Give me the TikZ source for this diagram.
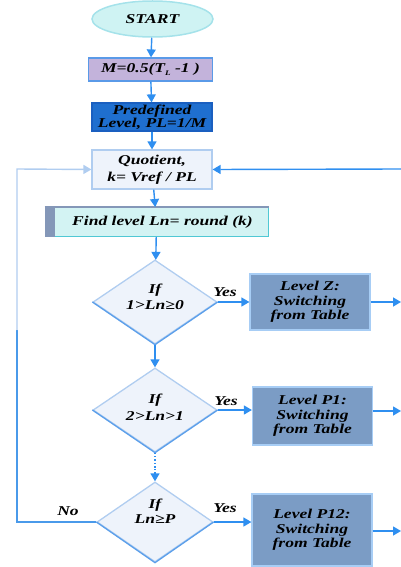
\documentclass[tikz,border=0pt]{standalone}
\usepackage{fontspec}
\setmainfont{Liberation Serif}[FakeStretch=1.3]
\usetikzlibrary{shapes.geometric,arrows.meta}
\definecolor{arr}{HTML}{2F8FF0}
\definecolor{startfill}{HTML}{CFF3F3}
\definecolor{startdraw}{HTML}{A5E2EA}
\definecolor{mfill}{HTML}{C3B3DB}
\definecolor{mdraw}{HTML}{5A9AE8}
\definecolor{pfill}{HTML}{1F6FCF}
\definecolor{pdraw}{HTML}{1A5FC0}
\definecolor{qfill}{HTML}{EEF3FB}
\definecolor{qdraw}{HTML}{B0CDF0}
\definecolor{ddark}{HTML}{5C9FEA}
\definecolor{ffill}{HTML}{D3F3F3}
\definecolor{fstripe}{HTML}{8497B8}
\definecolor{fdraw}{HTML}{50C8D4}
\definecolor{lfill}{HTML}{7B9CC5}
\definecolor{ldraw}{HTML}{A7CDF5}
\definecolor{loop}{HTML}{4A9AEA}
\begin{document}
\begin{tikzpicture}[x=1pt,y=-1pt,
  txt/.style={font=\bfseries\itshape\fontsize{13.5}{14.5}\selectfont, align=center, inner sep=0pt},
  conn/.style={draw=arr, line width=1.4pt, -{Triangle[length=8pt,width=9pt]}},
  boxstyle/.style={rectangle, line width=1.2pt, txt},
  dia/.style={diamond, aspect=1.48, fill=qfill, draw=qdraw, line width=1.3pt, minimum width=124pt, minimum height=84pt},
  dialow/.style={draw=ddark, line width=1.3pt, line join=miter},
  lvl/.style={boxstyle, fill=lfill, draw=ldraw, minimum width=120pt},
  lab/.style={font=\bfseries\itshape\fontsize{13.5}{14}\selectfont, inner sep=0pt}]
\useasboundingbox (0,0) rectangle (401,567);

\node[ellipse, fill=startfill, draw=startdraw, line width=1.5pt, minimum width=121pt, minimum height=36pt, txt] (start) at (152.5,19) {START};

\node[boxstyle, fill=mfill, draw=mdraw, minimum width=124pt, minimum height=23pt] (m) at (150.5,69.5) {M=0.5(T\raisebox{-2.5pt}{\fontsize{7}{7}\selectfont L} -1 )};

\node[boxstyle, fill=pfill, draw=pdraw, minimum width=120pt, minimum height=28pt, font=\bfseries\itshape\fontsize{13.5}{13}\selectfont] (p) at (152,117) {Predefined\\Level, PL=1/M};

\node[boxstyle, fill=qfill, draw=qdraw, minimum width=120pt, minimum height=39pt, font=\bfseries\itshape\fontsize{13.5}{17}\selectfont] (q) at (152,169.5) {Quotient,\\k= Vref / PL};

\node[rectangle, fill=ffill, draw=fdraw, line width=1pt, minimum width=223pt, minimum height=29pt] (f) at (156.5,222) {};
\fill[fstripe] (f.north west) rectangle ([xshift=10pt]f.south west);
\draw[fstripe, line width=1.2pt] (f.north west) -- (f.north east);
\node[txt] at ([xshift=6pt]f.center) {Find level Ln= round (k)};

\node[dia] (d1) at (155,302) {};
\node[dia] (d2) at (155,410) {};
\node[dia, minimum width=116pt, minimum height=80pt] (d3) at (155,522) {};
\draw[dialow] (d1.west) -- (d1.south) -- (d1.east);
\draw[dialow] (d2.west) -- (d2.south) -- (d2.east);
\draw[dialow] (d3.west) -- (d3.south) -- (d3.east);
\node[txt, font=\bfseries\itshape\fontsize{13.5}{16.5}\selectfont] at ([yshift=5pt]d1.center) {If\\1>Ln≥0};
\node[txt, font=\bfseries\itshape\fontsize{13.5}{17}\selectfont] at ([yshift=3pt]d2.center) {If\\2>Ln>1};
\node[txt, font=\bfseries\itshape\fontsize{13.5}{15}\selectfont] at ([yshift=11pt]d3.center) {If\\Ln≥P};

\node[lvl, minimum height=56pt] (l1) at (310,302) {Level Z:\\Switching\\from Table};
\node[lvl, minimum height=58pt] (l2) at (312.5,416) {Level P1:\\Switching\\from Table};
\node[lvl, minimum height=72pt] (l3) at (312,530) {Level P12:\\Switching\\from Table};

\coordinate (o1) at (401,302);
\coordinate (o2) at (401,411);
\coordinate (o3) at (401,531);
\coordinate (fb) at (401,169);
\coordinate (lb) at (17,522);
\coordinate (lt) at (17,169);
\coordinate (dm) at (155,469);

\draw[conn] (start) -- (m);
\draw[conn] (m) -- (p);
\draw[conn] (p) -- (q);
\draw[conn] (q) -- (f);
\draw[conn] (f) -- (d1);
\draw[conn] (d1) -- (d2);
\draw[draw=arr, line width=1.4pt, dotted] (d2.south) -- (dm);
\draw[conn, dotted] (dm) -- (d3.north);
\draw[conn] (d1.east) -- (l1.west);
\draw[conn] (d2.east) -- (l2.west |- d2.east);
\draw[conn] (d3.east) -- (l3.west |- d3.east);
\draw[conn] (l1.east) -- (o1);
\draw[conn] (l2.east |- o2) -- (o2);
\draw[conn] (l3.east |- o3) -- (o3);
\draw[conn] (fb) -- (q.east);
\draw[draw=loop, line width=1.4pt] (d3.west) -- (lb) -- (17,330);
\draw[draw=qdraw, line width=1.4pt, -{Triangle[length=8pt,width=9pt]}] (17,330) -- (lt) -- (q.west);

\node[lab] at (225,292) {Yes};
\node[lab] at (226,401) {Yes};
\node[lab] at (225,508) {Yes};
\node[lab] at (68,511) {No};
\end{tikzpicture}
\end{document}
